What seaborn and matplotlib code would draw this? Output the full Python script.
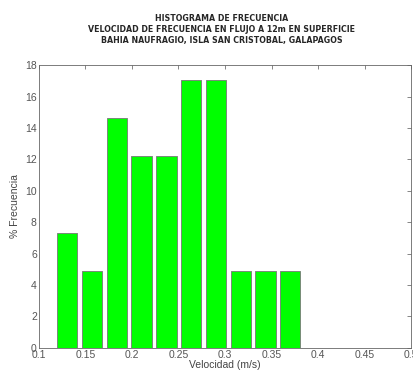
import numpy as np
import matplotlib
matplotlib.use('Agg')
import matplotlib.pyplot as plt
import seaborn as sns

# bin centers (m/s) and frequency (%)
centros = [0.1304, 0.1570, 0.1837, 0.2103, 0.2370, 0.2636, 0.2902, 0.3169, 0.3435, 0.3702]
frecuencia = [7.32, 4.88, 14.63, 12.20, 12.20, 17.07, 17.07, 4.88, 4.88, 4.88]
xticks = [0.1, 0.15, 0.2, 0.25, 0.3, 0.35, 0.4, 0.45, 0.5]
yticks = list(range(0, 19, 2))

titulo = ("HISTOGRAMA DE FRECUENCIA\n"
          "VELOCIDAD DE FRECUENCIA EN FLUJO A 12m EN SUPERFICIE\n"
          "BAHIA NAUFRAGIO, ISLA SAN CRISTOBAL, GALAPAGOS")

sns.set_style('white')
plt.rcParams['font.family'] = ['Liberation Sans', 'DejaVu Sans']

ancho = centros[1] - centros[0]
bordes = [c - ancho / 2 for c in centros] + [centros[-1] + ancho / 2]

fig = plt.figure(figsize=(4.14, 3.72), dpi=100)
ax = fig.add_axes([0.094, 0.065, 0.899, 0.76])

sns.histplot(x=centros, weights=frecuencia, bins=bordes, shrink=0.82,
             color='#00ff00', alpha=1, edgecolor='#777777', linewidth=0.6, ax=ax)

ax.set_xlim(0.1, 0.5)
ax.set_ylim(0, 18)
ax.set_xticks(xticks)
ax.set_xticklabels([f'{t:g}' for t in xticks])
ax.set_yticks(yticks)
ax.tick_params(direction='in', length=3, width=0.5, labelsize=7.5,
               colors='#555555', top=True, right=True, pad=1.5)
for s in ax.spines.values():
    s.set_color('#666666')
    s.set_linewidth(0.6)

ax.set_xlabel('Velocidad (m/s)', fontsize=7.5, color='#444444', labelpad=0)
ax.set_ylabel('% Frecuencia', fontsize=7.5, color='#444444', labelpad=4)
fig.text(0.536, 0.962, titulo, ha='center', va='top', fontsize=6.3,
         family='DejaVu Sans', fontstretch='condensed',
         fontweight='bold', linespacing=1.3)

fig.savefig('out.png', dpi=100)
